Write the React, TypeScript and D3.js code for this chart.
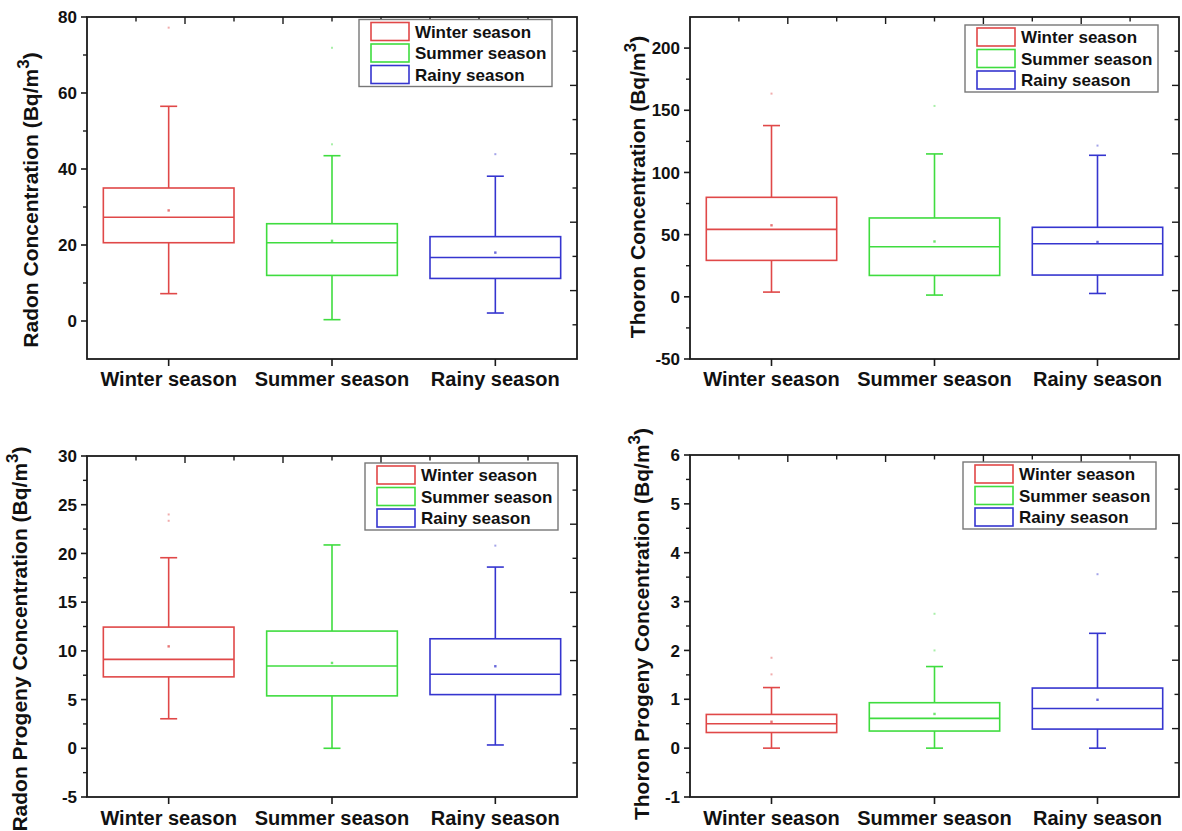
import React from "react";
import * as d3 from "d3";

// Seasons shown on every panel
const categories = ["Winter season", "Summer season", "Rainy season"];
const seasonColors = ["#e04848", "#3fdc3f", "#3535cf"];

// Radon concentration (Bq/m3)
const radonLow = [7.2, 0.35, 2.1];
const radonQ1 = [20.6, 12.0, 11.2];
const radonMedian = [27.3, 20.6, 16.7];
const radonQ3 = [35.0, 25.6, 22.2];
const radonHigh = [56.5, 43.5, 38.1];
const radonMean = [29.1, 21.1, 18.0];
const radonOutliers = [[77.2], [71.9, 46.5], [43.9]];
const radonTicks = [0, 20, 40, 60, 80];
const radonMinor = [10, 30, 50, 70];

// Thoron concentration (Bq/m3)
const thoronLow = [3.8, 1.4, 2.7];
const thoronQ1 = [29.3, 17.2, 17.5];
const thoronMedian = [54.2, 40.3, 42.7];
const thoronQ3 = [80.0, 63.4, 55.9];
const thoronHigh = [137.7, 114.9, 113.8];
const thoronMean = [57.5, 44.5, 44.1];
const thoronOutliers = [[163.4], [153.5], [121.6]];
const thoronTicks = [-50, 0, 50, 100, 150, 200];
const thoronMinor = [-25, 25, 75, 125, 175];

// Radon progeny concentration (Bq/m3)
const radonProgLow = [3.03, 0.0, 0.34];
const radonProgQ1 = [7.33, 5.38, 5.51];
const radonProgMedian = [9.13, 8.45, 7.6];
const radonProgQ3 = [12.44, 12.03, 11.24];
const radonProgHigh = [19.56, 20.87, 18.6];
const radonProgMean = [10.46, 8.76, 8.42];
const radonProgOutliers = [[24.0, 23.35], [], [20.8]];
const radonProgTicks = [-5, 0, 5, 10, 15, 20, 25, 30];
const radonProgMinor = [-2.5, 2.5, 7.5, 12.5, 17.5, 22.5, 27.5];

// Thoron progeny concentration (Bq/m3)
const thoronProgLow = [0.0, 0.0, 0.0];
const thoronProgQ1 = [0.32, 0.35, 0.39];
const thoronProgMedian = [0.5, 0.61, 0.81];
const thoronProgQ3 = [0.69, 0.93, 1.23];
const thoronProgHigh = [1.24, 1.67, 2.35];
const thoronProgMean = [0.54, 0.7, 0.99];
const thoronProgOutliers = [[1.85, 1.51], [2.75, 2.0], [3.56]];
const thoronProgTicks = [-1, 0, 1, 2, 3, 4, 5, 6];
const thoronProgMinor = [-0.5, 0.5, 1.5, 2.5, 3.5, 4.5, 5.5];

type Stat = {
  low: number; q1: number; median: number; q3: number; high: number;
  mean: number; outliers: number[];
};

function buildStats(low: number[], q1: number[], med: number[], q3: number[], high: number[], mean: number[], out: number[][]): Stat[] {
  return categories.map((_, i) => ({
    low: low[i], q1: q1[i], median: med[i], q3: q3[i], high: high[i], mean: mean[i], outliers: out[i],
  }));
}

const FONT = "Liberation Sans, Arial, Helvetica, sans-serif";
const AXIS = "#1a1a1a";

type PanelProps = {
  x0: number; x1: number; y0: number; y1: number;
  domain: [number, number];
  ticks: number[]; minor: number[];
  stats: Stat[];
  title: string;
  titleX: number; titleCY: number;
  legendRight: number; legendTop: number;
  labelBaseline: number;
};

function Panel(p: PanelProps) {
  const y = d3.scaleLinear().domain(p.domain).range([p.y1, p.y0]);
  const x = d3.scaleBand<string>().domain(categories).range([p.x0, p.x1]).paddingInner(0).paddingOuter(0);
  const bw = x.bandwidth();
  const boxW = bw * 0.8;
  const capW = 17;
  const w = p.x1 - p.x0;
  const h = p.y1 - p.y0;
  const frameTicks = d3.range(1, 10);

  const legW = 193;
  const legH = 67;
  const legX = p.legendRight - legW;
  const legY = p.legendTop;

  return (
    <g>
      {/* boxes */}
      {p.stats.map((s, i) => {
        const cx = x(categories[i])! + bw / 2;
        const c = seasonColors[i];
        return (
          <g key={i} stroke={c} strokeWidth={1.6} fill="none">
            <line x1={cx} x2={cx} y1={y(s.high)} y2={y(s.q3)} />
            <line x1={cx} x2={cx} y1={y(s.q1)} y2={y(s.low)} />
            <line x1={cx - capW / 2} x2={cx + capW / 2} y1={y(s.high)} y2={y(s.high)} />
            <line x1={cx - capW / 2} x2={cx + capW / 2} y1={y(s.low)} y2={y(s.low)} />
            <rect x={cx - boxW / 2} y={y(s.q3)} width={boxW} height={y(s.q1) - y(s.q3)} />
            <line x1={cx - boxW / 2} x2={cx + boxW / 2} y1={y(s.median)} y2={y(s.median)} />
            <rect x={cx - 1.2} y={y(s.mean) - 1.2} width={2.4} height={2.4} fill={c} stroke="none" opacity={0.75} />
            {s.outliers.map((o, j) => (
              <rect key={j} x={cx - 1} y={y(o) - 1} width={2} height={2} fill={c} stroke="none" opacity={0.45} />
            ))}
          </g>
        );
      })}

      {/* frame */}
      <rect x={p.x0} y={p.y0} width={w} height={h} fill="none" stroke={AXIS} strokeWidth={1.8} />

      {/* left axis ticks and labels */}
      {p.ticks.map((t) => (
        <g key={"t" + t}>
          <line x1={p.x0 - 6} x2={p.x0} y1={y(t)} y2={y(t)} stroke={AXIS} strokeWidth={1.6} />
          <text x={p.x0 - 10} y={y(t)} dy="0.36em" textAnchor="end" fontFamily={FONT} fontWeight="bold" fontSize={17} fill="#111">
            {t}
          </text>
        </g>
      ))}
      {p.minor.map((t) => (
        <line key={"m" + t} x1={p.x0 - 4} x2={p.x0} y1={y(t)} y2={y(t)} stroke={AXIS} strokeWidth={1.4} />
      ))}

      {/* top and right frame ticks */}
      {frameTicks.map((i) => {
        const len = i % 2 === 0 ? 7 : 4.5;
        const tx = p.x0 + (w * i) / 10;
        const ty = p.y0 + (h * i) / 10;
        return (
          <g key={"f" + i} stroke={AXIS} strokeWidth={1.4}>
            <line x1={tx} x2={tx} y1={p.y0} y2={p.y0 + len} />
            <line x1={p.x1 - len} x2={p.x1} y1={ty} y2={ty} />
          </g>
        );
      })}

      {/* category axis */}
      {categories.map((c) => {
        const cx = x(c)! + bw / 2;
        return (
          <g key={c}>
            <line x1={cx} x2={cx} y1={p.y1} y2={p.y1 + 7} stroke={AXIS} strokeWidth={1.6} />
            <text x={cx} y={p.labelBaseline} textAnchor="middle" fontFamily={FONT} fontWeight="bold" fontSize={20} fill="#111">
              {c}
            </text>
          </g>
        );
      })}

      {/* y title */}
      <text
        transform={`translate(${p.titleX},${p.titleCY}) rotate(-90)`}
        textAnchor="middle"
        fontFamily={FONT}
        fontWeight="bold"
        fontSize={21}
        fill="#111"
      >
        {p.title} (Bq/m
        <tspan dy={-9} fontSize={17}>3</tspan>
        <tspan dy={9}>)</tspan>
      </text>

      {/* legend */}
      <g>
        <rect x={legX} y={legY} width={legW} height={legH} fill="#fff" stroke="#777" strokeWidth={1.4} />
        {categories.map((c, i) => {
          const ry = legY + 3 + i * 21.5;
          return (
            <g key={c}>
              <rect x={legX + 12} y={ry} width={38} height={18} fill="none" stroke={seasonColors[i]} strokeWidth={1.6} />
              <text x={legX + 56} y={ry + 9} dy="0.36em" fontFamily={FONT} fontWeight="bold" fontSize={17} fill="#111">
                {c}
              </text>
            </g>
          );
        })}
      </g>
    </g>
  );
}

export default function App() {
  const radon = buildStats(radonLow, radonQ1, radonMedian, radonQ3, radonHigh, radonMean, radonOutliers);
  const thoron = buildStats(thoronLow, thoronQ1, thoronMedian, thoronQ3, thoronHigh, thoronMean, thoronOutliers);
  const radonProg = buildStats(radonProgLow, radonProgQ1, radonProgMedian, radonProgQ3, radonProgHigh, radonProgMean, radonProgOutliers);
  const thoronProg = buildStats(thoronProgLow, thoronProgQ1, thoronProgMedian, thoronProgQ3, thoronProgHigh, thoronProgMean, thoronProgOutliers);

  return (
    <svg
      width={1182}
      height={831}
      style={{ position: "absolute", left: 0, top: 0, background: "#fff" }}
    >
      <rect width={1182} height={831} fill="#fff" />
      <Panel
        x0={87} x1={577} y0={17} y1={359}
        domain={[-10, 80]} ticks={radonTicks} minor={radonMinor} stats={radon}
        title="Radon Concentration" titleX={38} titleCY={200}
        legendRight={552} legendTop={19.5} labelBaseline={386}
      />
      <Panel
        x0={690} x1={1179} y0={17} y1={359}
        domain={[-50, 225]} ticks={thoronTicks} minor={thoronMinor} stats={thoron}
        title="Thoron Concentration" titleX={645} titleCY={187}
        legendRight={1158} legendTop={25} labelBaseline={386}
      />
      <Panel
        x0={87} x1={577} y0={456} y1={797}
        domain={[-5, 30]} ticks={radonProgTicks} minor={radonProgMinor} stats={radonProg}
        title="Radon Progeny Concentration" titleX={27} titleCY={639}
        legendRight={558} legendTop={463} labelBaseline={825}
      />
      <Panel
        x0={690} x1={1179} y0={455} y1={797}
        domain={[-1, 6]} ticks={thoronProgTicks} minor={thoronProgMinor} stats={thoronProg}
        title="Thoron Progeny Concentration" titleX={649} titleCY={624}
        legendRight={1156} legendTop={462} labelBaseline={825}
      />
    </svg>
  );
}
